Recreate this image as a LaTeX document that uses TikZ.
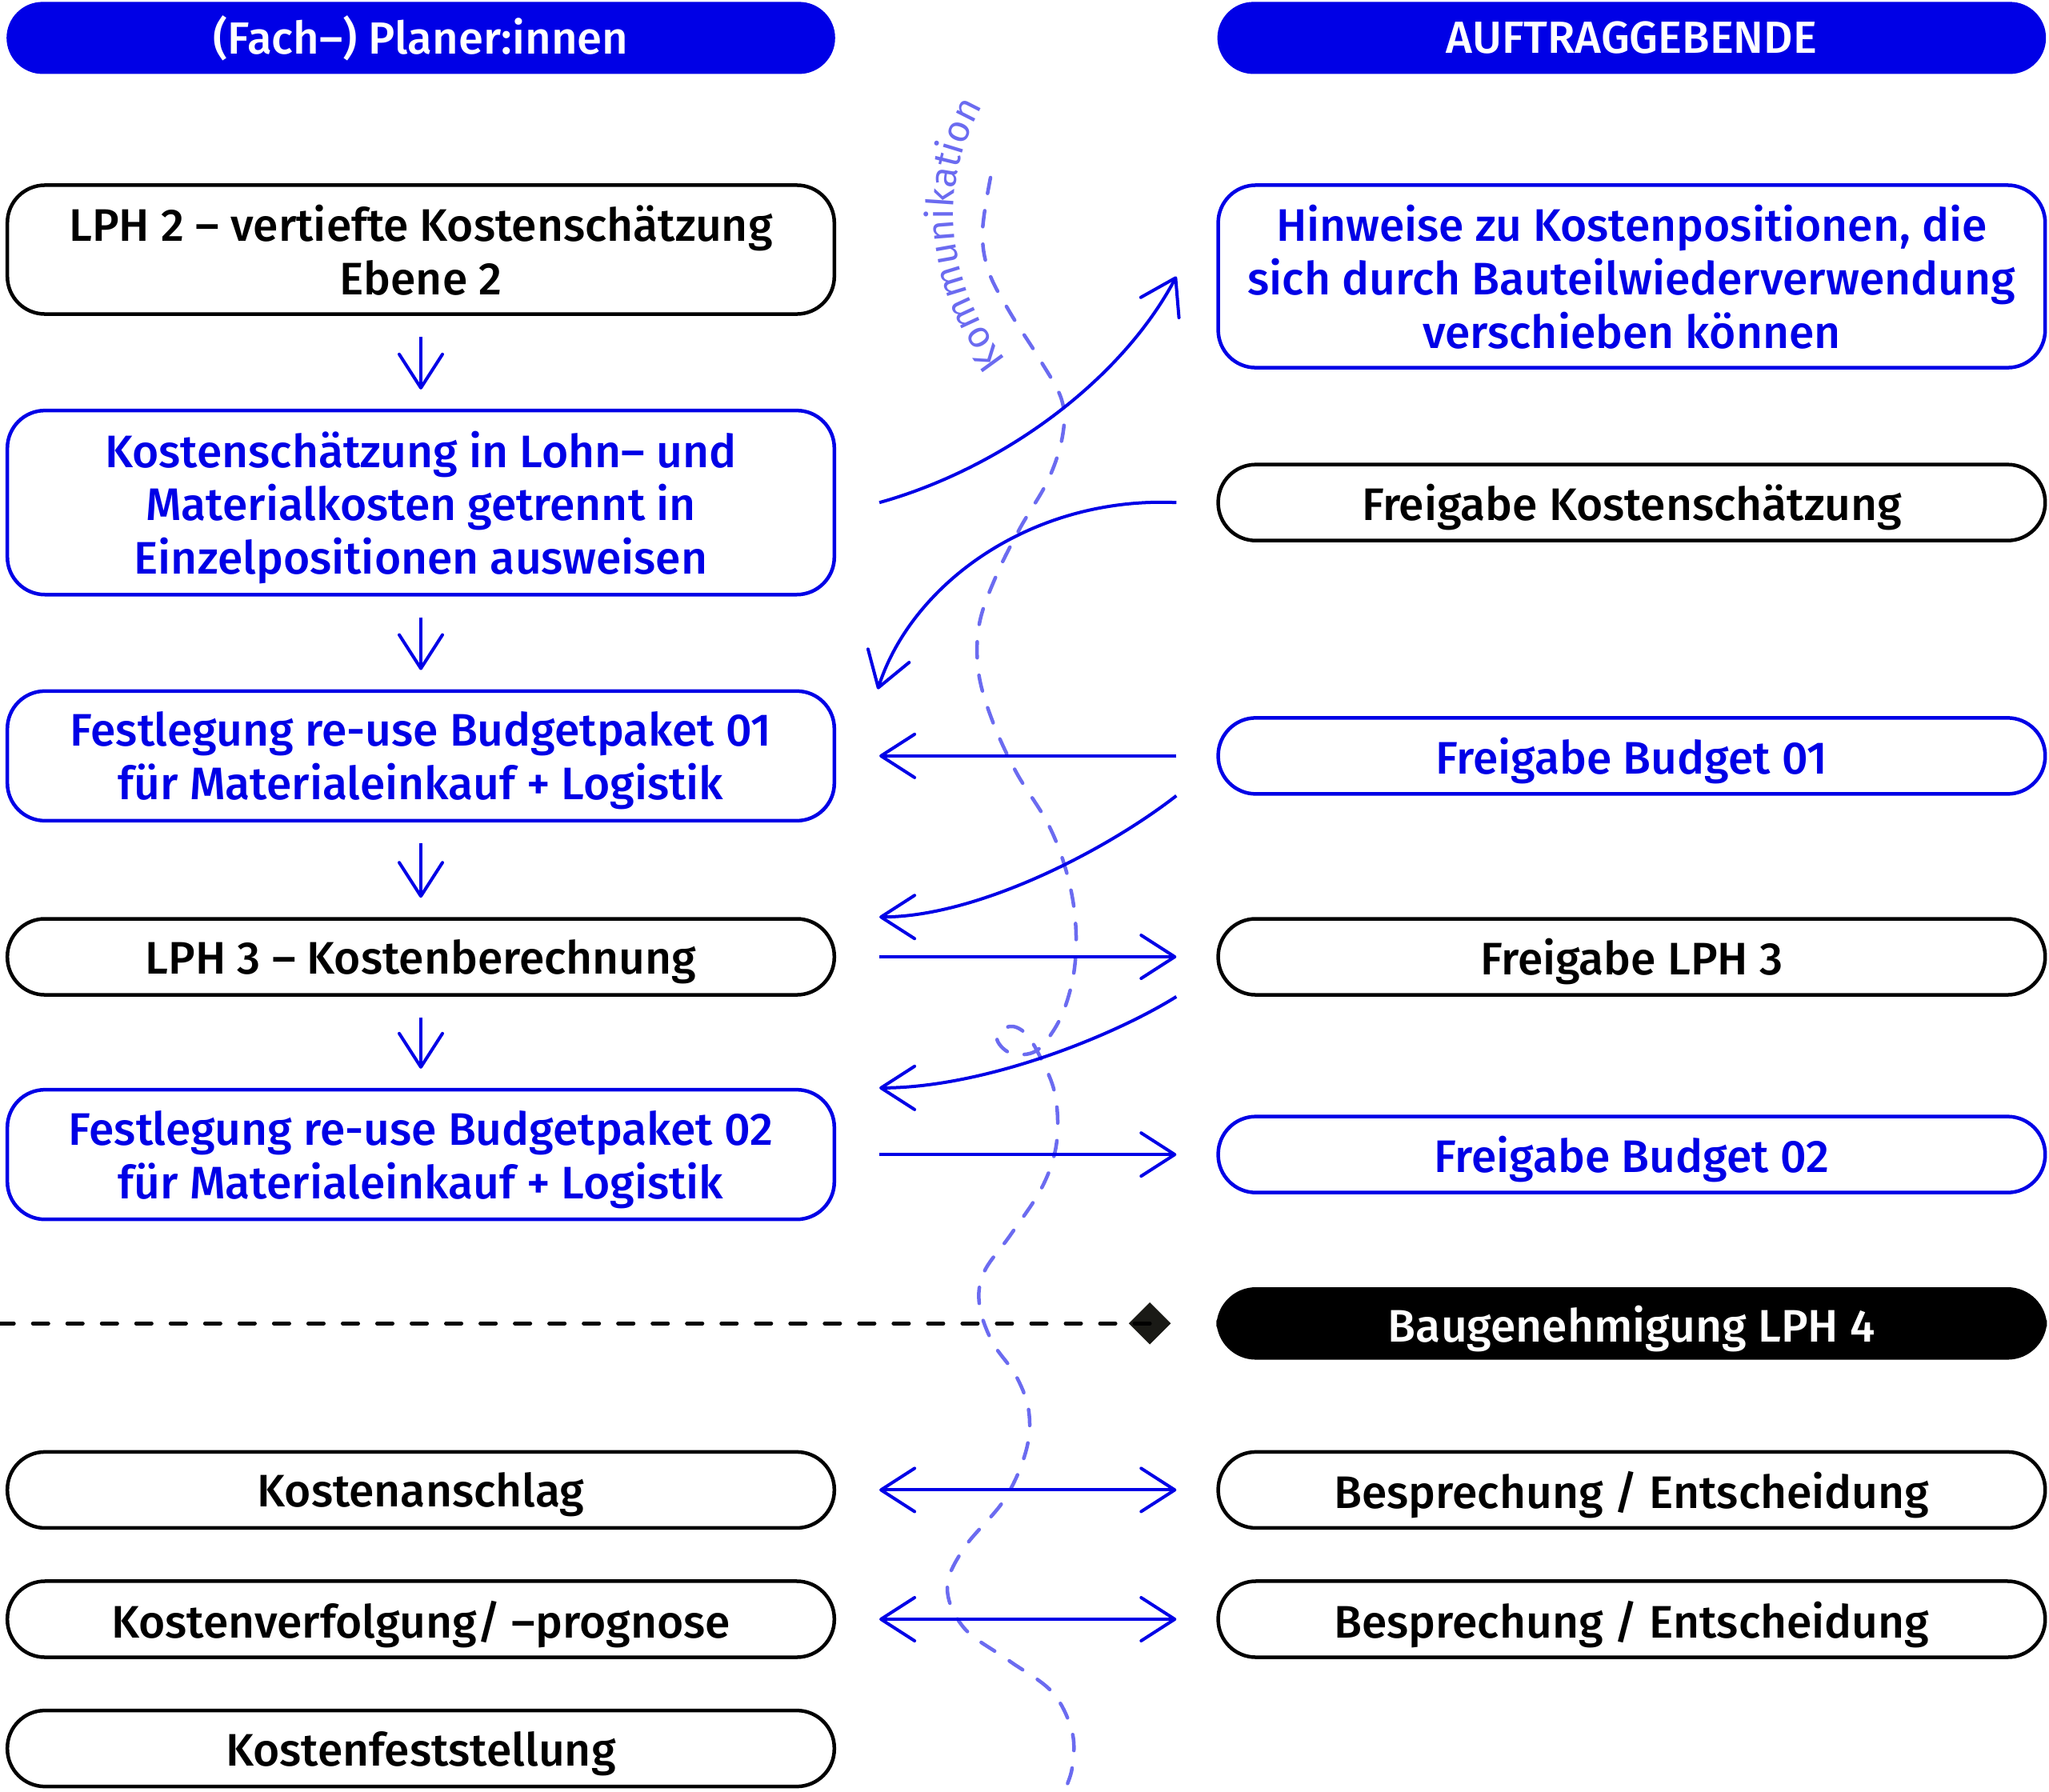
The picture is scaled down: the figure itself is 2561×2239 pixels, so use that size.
\documentclass[tikz,border=0pt]{standalone}
\usepackage{fontspec}
\setmainfont{Fira Sans}[UprightFont={* Medium}]
\newfontfamily\komfont{Fira Sans}
\usetikzlibrary{positioning,shapes.geometric,arrows.meta,decorations.text}

\definecolor{planblue}{HTML}{0000E6}
\definecolor{komblue}{HTML}{6B6BF0}
\definecolor{meilen}{HTML}{1A1A16}

\tikzset{
  box/.style={draw, line width=0.045cm, rounded corners=0.47cm, minimum width=10.33cm,
    align=center, inner sep=0pt, text depth=0pt, font=\fontsize{16.2}{19}\selectfont},
  pill/.style={box, minimum height=0.95cm},
  bluebox/.style={draw=planblue, text=planblue},
  colhead/.style={fill=planblue, text=white, rounded corners=0.45cm, minimum width=10.35cm,
    minimum height=0.9cm, inner sep=0pt, font=\fontsize{16}{19}\selectfont},
  flow/.style={draw=planblue, line width=0.04cm, -{Straight Barb[length=4.2mm,width=5.4mm,round]}},
  twoway/.style={flow, {Straight Barb[length=4.2mm,width=5.4mm,round]}-{Straight Barb[length=4.2mm,width=5.4mm,round]}},
  welle/.style={draw=komblue, line width=0.045cm, line cap=round, dash pattern=on 0.2cm off 0.22cm},
  meilenstein/.style={draw=black, line width=0.05cm, line cap=round, dash pattern=on 0.19cm off 0.24cm}
}

\begin{document}
\begin{tikzpicture}[x=0.01cm, y=-0.01cm, node distance=1.16cm]
  \useasboundingbox (0,0) rectangle (2561,2239);

  % Planer:innen
  \node[box, minimum height=1.61cm] (lph2) at (526,312) {LPH 2 -- vertiefte Kostenschätzung\\Ebene 2};
  \node[box, bluebox, minimum height=2.30cm, below=of lph2] (lohn)
    {Kostenschätzung in Lohn-- und\\Materialkosten getrennt in\\Einzelpositionen ausweisen};
  \node[box, bluebox, minimum height=1.62cm, below=of lohn] (paket1)
    {Festlegung re-use Budgetpaket 01\\für Materialeinkauf + Logistik};
  \node[pill, below=1.18cm of paket1] (lph3) {LPH 3 -- Kostenberechnung};
  \node[box, bluebox, minimum height=1.62cm, below=1.14cm of lph3] (paket2)
    {Festlegung re-use Budgetpaket 02\\für Materialeinkauf + Logistik};
  \node[pill, below=2.86cm of paket2] (anschlag) {Kostenanschlag};
  \node[pill, below=0.62cm of anschlag] (verfolg) {Kostenverfolgung/ --prognose};
  \node[pill, below=0.62cm of verfolg] (feststell) {Kostenfeststellung};
  \node[colhead, above=1.36cm of lph2] (planer) {(Fach--) Planer:innen};

  % Auftraggebende
  \node[box, bluebox, minimum height=2.28cm, anchor=north west] (hinweise) at ([xshift=4.75cm]lph2.north east)
    {Hinweise zu Kostenpositionen, die\\sich durch Bauteilwiederverwendung\\verschieben können};
  \node[pill, right=4.75cm of lohn] (frks) {Freigabe Kostenschätzung};
  \node[pill, bluebox, right=4.75cm of paket1] (frb1) {Freigabe Budget 01};
  \node[pill, right=4.75cm of lph3] (frlph3) {Freigabe LPH 3};
  \node[pill, bluebox, right=4.75cm of paket2] (frb2) {Freigabe Budget 02};
  \node[pill, right=4.75cm of anschlag] (bespr1) {Besprechung / Entscheidung};
  \node[pill, right=4.75cm of verfolg] (bespr2) {Besprechung / Entscheidung};
  \node[pill, fill=black, text=white, minimum height=0.86cm, below=1.16cm of frb2] (baugen) {Baugenehmigung LPH 4};
  \node[colhead, above=1.36cm of hinweise] (auftrag) {AUFTRAGGEBENDE};

  % Kommunikation
  \draw[welle] plot[smooth, tension=0.6] coordinates {(1238,222) (1228,290) (1236,340) (1262,390)
    (1300,450) (1327,500) (1328,545) (1310,600) (1275,660) (1245,720) (1224,780) (1223,840)
    (1240,900) (1270,965) (1310,1030) (1333,1090) (1344,1150) (1343,1210) (1330,1262) (1310,1298)
    (1290,1316) (1262,1316) (1246,1298) (1262,1283) (1283,1293) (1303,1327) (1318,1365) (1322,1410)
    (1316,1450) (1298,1492) (1262,1545) (1230,1590) (1224,1630) (1240,1677) (1270,1720) (1286,1765)
    (1282,1815) (1255,1875) (1205,1935) (1184,1985) (1205,2035) (1260,2075) (1315,2115) (1340,2165)
    (1340,2210) (1330,2239)};
  \path[decorate, decoration={text along path, text align=center, text color=komblue,
    text={|\komfont\fontsize{13.4}{16}\selectfont|Kommunikation}}]
    (1280,475) .. controls (1180,372) and (1160,222) .. (1246,104);

  % Meilenstein
  \node[diamond, fill=meilen, minimum width=0.53cm, minimum height=0.53cm, inner sep=0pt, left=0.56cm of baugen] (raute) {};
  \coordinate (rand) at (0,0);
  \draw[meilenstein] (raute.center) -- (raute.center -| rand);

  % Ablauf
  \draw[flow, shorten <=0.26cm, shorten >=0.24cm] (lph2) -- (lohn);
  \draw[flow, shorten <=0.26cm, shorten >=0.24cm] (lohn) -- (paket1);
  \draw[flow, shorten <=0.26cm, shorten >=0.24cm] (paket1) -- (lph3);
  \draw[flow, shorten <=0.26cm, shorten >=0.24cm] (lph3) -- (paket2);

  \draw[flow] ([xshift=0.54cm]lohn.east) .. controls +(151,-42) and +(-70,132) .. ([xshift=-0.5cm]hinweise.west);
  \draw[flow] ([xshift=-0.5cm]frks.west) .. controls +(-180,-8) and +(43,-133) .. ([xshift=0.52cm]paket1.north east);
  \draw[flow] ([xshift=-0.5cm]frb1.west) -- ([xshift=0.54cm]paket1.east);
  \draw[flow] ([xshift=-0.5cm]frb1.south west) .. controls +(-90,70) and +(121,0) .. ([xshift=0.54cm]lph3.north east);
  \draw[flow] ([xshift=0.54cm]lph3.east) -- ([xshift=-0.5cm]frlph3.west);
  \draw[flow] ([xshift=-0.5cm]frlph3.south west) .. controls +(-80,50) and +(130,0) .. ([xshift=0.54cm]paket2.north east);
  \draw[flow] ([xshift=0.54cm]paket2.east) -- ([xshift=-0.5cm]frb2.west);
  \draw[twoway] ([xshift=0.54cm]anschlag.east) -- ([xshift=-0.5cm]bespr1.west);
  \draw[twoway] ([xshift=0.54cm]verfolg.east) -- ([xshift=-0.5cm]bespr2.west);
\end{tikzpicture}
\end{document}
